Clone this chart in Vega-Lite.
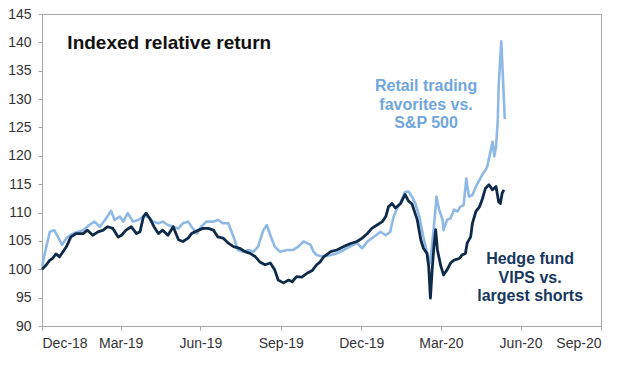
{
  "$schema": "https://vega.github.io/schema/vega-lite/v6.json",
  "width": 559,
  "height": 312,
  "autosize": {"type": "none"},
  "padding": {"left": 42, "top": 14, "right": 29, "bottom": 39},
  "background": "white",
  "config": {
    "font": "Liberation Sans",
    "view": {"stroke": "#A6A6A6", "strokeWidth": 1},
    "axis": {
      "grid": false,
      "domainColor": "#A6A6A6",
      "tickColor": "#A6A6A6",
      "tickSize": 4,
      "labelFont": "Liberation Sans",
      "labelFontSize": 14,
      "labelColor": "#333333",
      "title": null
    }
  },
  "datasets": {
    "retail": [
      {"date": "2018-12-31", "value": 100.5}, {"date": "2019-01-05", "value": 104}, {"date": "2019-01-09", "value": 106.6},
      {"date": "2019-01-14", "value": 106.9}, {"date": "2019-01-19", "value": 105.5}, {"date": "2019-01-23", "value": 104.3},
      {"date": "2019-01-28", "value": 105.5}, {"date": "2019-02-02", "value": 106.1}, {"date": "2019-02-08", "value": 106.5},
      {"date": "2019-02-16", "value": 106.9}, {"date": "2019-02-23", "value": 107.8}, {"date": "2019-03-01", "value": 108.4},
      {"date": "2019-03-07", "value": 107.5}, {"date": "2019-03-13", "value": 108.7}, {"date": "2019-03-20", "value": 110.3},
      {"date": "2019-03-24", "value": 108.7}, {"date": "2019-03-30", "value": 109.3}, {"date": "2019-04-03", "value": 108.4},
      {"date": "2019-04-08", "value": 109.9}, {"date": "2019-04-14", "value": 108.4}, {"date": "2019-04-20", "value": 108.7},
      {"date": "2019-04-26", "value": 109.3}, {"date": "2019-05-01", "value": 109.3}, {"date": "2019-05-07", "value": 108.4},
      {"date": "2019-05-13", "value": 108.1}, {"date": "2019-05-18", "value": 108.4}, {"date": "2019-05-24", "value": 107.8},
      {"date": "2019-05-30", "value": 107.5}, {"date": "2019-06-05", "value": 107.2}, {"date": "2019-06-10", "value": 108.1},
      {"date": "2019-06-16", "value": 108.4}, {"date": "2019-06-20", "value": 107.5}, {"date": "2019-06-26", "value": 106.3},
      {"date": "2019-07-01", "value": 107.5}, {"date": "2019-07-07", "value": 108.4}, {"date": "2019-07-15", "value": 108.4},
      {"date": "2019-07-20", "value": 108.7}, {"date": "2019-07-26", "value": 108.1}, {"date": "2019-08-01", "value": 108.1},
      {"date": "2019-08-07", "value": 105.7}, {"date": "2019-08-12", "value": 103.4}, {"date": "2019-08-18", "value": 103.1},
      {"date": "2019-08-24", "value": 103.4}, {"date": "2019-08-30", "value": 103.1}, {"date": "2019-09-04", "value": 104},
      {"date": "2019-09-10", "value": 106.9}, {"date": "2019-09-14", "value": 107.8}, {"date": "2019-09-18", "value": 106},
      {"date": "2019-09-23", "value": 104}, {"date": "2019-09-29", "value": 103.1}, {"date": "2019-10-07", "value": 103.4},
      {"date": "2019-10-14", "value": 103.4}, {"date": "2019-10-20", "value": 104}, {"date": "2019-10-26", "value": 104.9},
      {"date": "2019-10-30", "value": 104.6}, {"date": "2019-11-03", "value": 104.3}, {"date": "2019-11-06", "value": 103.2},
      {"date": "2019-11-10", "value": 102.5}, {"date": "2019-11-18", "value": 102.2}, {"date": "2019-11-26", "value": 102.5},
      {"date": "2019-12-03", "value": 102.8}, {"date": "2019-12-11", "value": 103.4}, {"date": "2019-12-18", "value": 104},
      {"date": "2019-12-26", "value": 104.6}, {"date": "2020-01-01", "value": 103.7}, {"date": "2020-01-07", "value": 104.9},
      {"date": "2020-01-14", "value": 105.7}, {"date": "2020-01-22", "value": 106.6}, {"date": "2020-01-28", "value": 106},
      {"date": "2020-02-02", "value": 106.6}, {"date": "2020-02-06", "value": 109.3}, {"date": "2020-02-10", "value": 110.8},
      {"date": "2020-02-14", "value": 111.8}, {"date": "2020-02-19", "value": 113.6}, {"date": "2020-02-23", "value": 113.7},
      {"date": "2020-02-27", "value": 112.8}, {"date": "2020-03-02", "value": 111.5}, {"date": "2020-03-06", "value": 109.5},
      {"date": "2020-03-11", "value": 105.7}, {"date": "2020-03-15", "value": 103}, {"date": "2020-03-18", "value": 101},
      {"date": "2020-03-20", "value": 103}, {"date": "2020-03-23", "value": 107.5}, {"date": "2020-03-26", "value": 112.8},
      {"date": "2020-03-29", "value": 110.5}, {"date": "2020-04-02", "value": 108.7}, {"date": "2020-04-03", "value": 106.9},
      {"date": "2020-04-07", "value": 108.7}, {"date": "2020-04-11", "value": 109}, {"date": "2020-04-15", "value": 110.5},
      {"date": "2020-04-19", "value": 110.2}, {"date": "2020-04-22", "value": 111}, {"date": "2020-04-26", "value": 111.3},
      {"date": "2020-04-29", "value": 116}, {"date": "2020-05-02", "value": 112.8}, {"date": "2020-05-06", "value": 113.1},
      {"date": "2020-05-10", "value": 114.6}, {"date": "2020-05-14", "value": 115.7}, {"date": "2020-05-17", "value": 116.6},
      {"date": "2020-05-21", "value": 117.5}, {"date": "2020-05-23", "value": 118.1}, {"date": "2020-05-27", "value": 121},
      {"date": "2020-05-29", "value": 122.5}, {"date": "2020-05-31", "value": 119.9}, {"date": "2020-06-02", "value": 121.6},
      {"date": "2020-06-04", "value": 126.3}, {"date": "2020-06-05", "value": 132.2}, {"date": "2020-06-08", "value": 140.2},
      {"date": "2020-06-10", "value": 133.4}, {"date": "2020-06-12", "value": 126.5}
    ],
    "hedge": [
      {"date": "2018-12-31", "value": 100}, {"date": "2019-01-05", "value": 100.8}, {"date": "2019-01-09", "value": 101.6},
      {"date": "2019-01-12", "value": 101.9}, {"date": "2019-01-16", "value": 102.7}, {"date": "2019-01-20", "value": 102.2},
      {"date": "2019-01-24", "value": 103.1}, {"date": "2019-01-28", "value": 104}, {"date": "2019-02-02", "value": 105.7},
      {"date": "2019-02-08", "value": 106.3}, {"date": "2019-02-16", "value": 106.3}, {"date": "2019-02-21", "value": 106.9},
      {"date": "2019-02-27", "value": 106}, {"date": "2019-03-05", "value": 106.6}, {"date": "2019-03-11", "value": 106.9},
      {"date": "2019-03-16", "value": 107.5}, {"date": "2019-03-22", "value": 107.2}, {"date": "2019-03-28", "value": 105.7},
      {"date": "2019-04-01", "value": 106}, {"date": "2019-04-06", "value": 106.9}, {"date": "2019-04-12", "value": 107.5},
      {"date": "2019-04-18", "value": 106.3}, {"date": "2019-04-22", "value": 106.6}, {"date": "2019-04-26", "value": 109.3},
      {"date": "2019-04-29", "value": 109.9}, {"date": "2019-05-03", "value": 109}, {"date": "2019-05-08", "value": 107.5},
      {"date": "2019-05-13", "value": 106.3}, {"date": "2019-05-18", "value": 106.9}, {"date": "2019-05-24", "value": 106},
      {"date": "2019-05-30", "value": 107.5}, {"date": "2019-06-05", "value": 105.2}, {"date": "2019-06-10", "value": 104.9},
      {"date": "2019-06-16", "value": 105.5}, {"date": "2019-06-20", "value": 106.3}, {"date": "2019-06-28", "value": 106.9},
      {"date": "2019-07-03", "value": 107.2}, {"date": "2019-07-09", "value": 107.2}, {"date": "2019-07-15", "value": 106.9},
      {"date": "2019-07-20", "value": 105.7}, {"date": "2019-07-26", "value": 105.5}, {"date": "2019-08-01", "value": 104.6},
      {"date": "2019-08-07", "value": 104}, {"date": "2019-08-14", "value": 103.7}, {"date": "2019-08-20", "value": 103.1},
      {"date": "2019-08-26", "value": 102.8}, {"date": "2019-09-01", "value": 102.2}, {"date": "2019-09-06", "value": 101.3},
      {"date": "2019-09-12", "value": 100.8}, {"date": "2019-09-18", "value": 101.1}, {"date": "2019-09-23", "value": 99.9},
      {"date": "2019-09-27", "value": 98.1}, {"date": "2019-10-03", "value": 97.6}, {"date": "2019-10-09", "value": 98.1},
      {"date": "2019-10-13", "value": 97.8}, {"date": "2019-10-18", "value": 98.7}, {"date": "2019-10-24", "value": 98.6},
      {"date": "2019-10-30", "value": 99.3}, {"date": "2019-11-05", "value": 99.8}, {"date": "2019-11-10", "value": 100.8},
      {"date": "2019-11-14", "value": 101.3}, {"date": "2019-11-18", "value": 102.2}, {"date": "2019-11-26", "value": 103.1},
      {"date": "2019-12-03", "value": 103.4}, {"date": "2019-12-11", "value": 104}, {"date": "2019-12-18", "value": 104.5},
      {"date": "2019-12-26", "value": 104.9}, {"date": "2020-01-01", "value": 105.5}, {"date": "2020-01-07", "value": 106.3},
      {"date": "2020-01-12", "value": 107.2}, {"date": "2020-01-18", "value": 107.8}, {"date": "2020-01-24", "value": 108.4},
      {"date": "2020-01-28", "value": 109.3}, {"date": "2020-01-31", "value": 111}, {"date": "2020-02-04", "value": 111.6},
      {"date": "2020-02-08", "value": 110.8}, {"date": "2020-02-14", "value": 111.6}, {"date": "2020-02-19", "value": 113.2},
      {"date": "2020-02-23", "value": 112}, {"date": "2020-02-27", "value": 111.5}, {"date": "2020-03-04", "value": 108.7},
      {"date": "2020-03-08", "value": 105.2}, {"date": "2020-03-11", "value": 103.7}, {"date": "2020-03-15", "value": 102.8},
      {"date": "2020-03-17", "value": 100.5}, {"date": "2020-03-19", "value": 94.9}, {"date": "2020-03-21", "value": 99.9},
      {"date": "2020-03-23", "value": 104}, {"date": "2020-03-25", "value": 107}, {"date": "2020-03-27", "value": 103.4},
      {"date": "2020-03-31", "value": 100.5}, {"date": "2020-04-03", "value": 99}, {"date": "2020-04-07", "value": 99.9},
      {"date": "2020-04-11", "value": 101.1}, {"date": "2020-04-15", "value": 101.6}, {"date": "2020-04-21", "value": 101.9},
      {"date": "2020-04-24", "value": 102.5}, {"date": "2020-04-28", "value": 102.8}, {"date": "2020-04-30", "value": 104.6},
      {"date": "2020-05-04", "value": 105.7}, {"date": "2020-05-06", "value": 108.1}, {"date": "2020-05-10", "value": 110.2},
      {"date": "2020-05-14", "value": 111}, {"date": "2020-05-17", "value": 112.2}, {"date": "2020-05-21", "value": 114.3},
      {"date": "2020-05-25", "value": 114.9}, {"date": "2020-05-29", "value": 114}, {"date": "2020-06-02", "value": 114.6},
      {"date": "2020-06-05", "value": 111.9}, {"date": "2020-06-07", "value": 111.6}, {"date": "2020-06-09", "value": 113.4},
      {"date": "2020-06-11", "value": 114}
    ],
    "notes": [
      {"date": "2019-01-29", "value": 138.85, "label": ["Indexed relative return"], "kind": "title"},
      {"date": "2020-03-14", "value": 131.4, "label": ["Retail trading", "favorites vs.", "S&P 500"], "kind": "retail"},
      {"date": "2020-07-11", "value": 100.9, "label": ["Hedge fund", "VIPS vs.", "largest shorts"], "kind": "hedge"}
    ]
  },
  "encoding": {
    "x": {
      "field": "date",
      "type": "temporal",
      "scale": {
        "type": "utc",
        "domain": [
          {"year": 2018, "month": 12, "date": 31, "utc": true},
          {"year": 2020, "month": 9, "date": 30, "utc": true}
        ]
      },
      "axis": {
        "format": "%b-%y",
        "labelPadding": 6,
        "values": [
          {"year": 2018, "month": 12, "date": 31, "utc": true},
          {"year": 2019, "month": 3, "date": 31, "utc": true},
          {"year": 2019, "month": 6, "date": 30, "utc": true},
          {"year": 2019, "month": 9, "date": 30, "utc": true},
          {"year": 2019, "month": 12, "date": 31, "utc": true},
          {"year": 2020, "month": 3, "date": 31, "utc": true},
          {"year": 2020, "month": 6, "date": 30, "utc": true},
          {"year": 2020, "month": 9, "date": 30, "utc": true}
        ]
      }
    },
    "y": {
      "field": "value",
      "type": "quantitative",
      "scale": {"domain": [90, 145], "nice": false, "zero": false},
      "axis": {"values": [90, 95, 100, 105, 110, 115, 120, 125, 130, 135, 140, 145], "labelPadding": 7}
    }
  },
  "layer": [
    {
      "data": {"name": "retail"},
      "mark": {"type": "line", "color": "#8DB9E4", "strokeWidth": 2.6, "strokeJoin": "round"}
    },
    {
      "data": {"name": "hedge"},
      "mark": {"type": "line", "color": "#0E2A4A", "strokeWidth": 2.8, "strokeJoin": "round"}
    },
    {
      "data": {"name": "notes"},
      "transform": [{"filter": "datum.kind === 'title'"}],
      "mark": {"type": "text", "align": "left", "baseline": "alphabetic", "fontSize": 19, "fontWeight": "bold", "color": "#111111", "font": "Liberation Sans"},
      "encoding": {"text": {"field": "label"}}
    },
    {
      "data": {"name": "notes"},
      "transform": [{"filter": "datum.kind === 'retail'"}],
      "mark": {"type": "text", "align": "center", "baseline": "alphabetic", "fontSize": 16, "fontWeight": "bold", "color": "#6FA6DC", "lineHeight": 18.5, "font": "Liberation Sans"},
      "encoding": {"text": {"field": "label"}}
    },
    {
      "data": {"name": "notes"},
      "transform": [{"filter": "datum.kind === 'hedge'"}],
      "mark": {"type": "text", "align": "center", "baseline": "alphabetic", "fontSize": 16, "fontWeight": "bold", "color": "#17375E", "lineHeight": 18.5, "font": "Liberation Sans"},
      "encoding": {"text": {"field": "label"}}
    }
  ]
}
